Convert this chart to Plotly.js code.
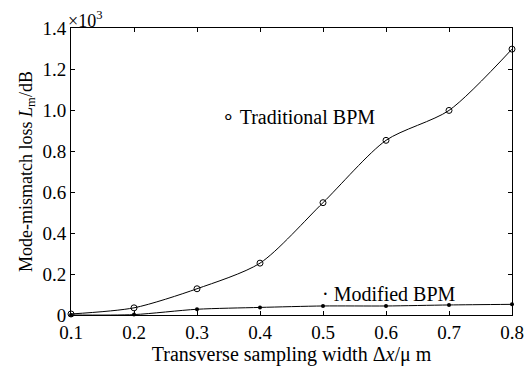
<!DOCTYPE html>
<html>
<head>
<meta charset="utf-8">
<script src="https://cdn.plot.ly/plotly-3.0.1.min.js"></script>
<style>
  html, body { margin: 0; padding: 0; background: #fff; }
  #chart { width: 528px; height: 367px; }
</style>
</head>
<body>
<div id="chart"></div>
<script>
// Transverse sampling width (μm)
const widths = [0.1, 0.2, 0.3, 0.4, 0.5, 0.6, 0.7, 0.8];
// Mode-mismatch loss, in units of 10^3 dB
const traditionalLoss = [0.005, 0.035, 0.128, 0.253, 0.548, 0.852, 0.998, 1.297];
const modifiedLoss = [0.0, 0.002, 0.028, 0.037, 0.044, 0.044, 0.049, 0.052];

const xTicks = [0.1, 0.2, 0.3, 0.4, 0.5, 0.6, 0.7, 0.8];
const xTickText = ['0.1', '0.2', '0.3', '0.4', '0.5', '0.6', '0.7', '0.8'];
const yTicks = [0, 0.2, 0.4, 0.6, 0.8, 1.0, 1.2, 1.4];
const yTickText = ['0', '0.2', '0.4', '0.6', '0.8', '1.0', '1.2', '1.4'];

const serif = 'Liberation Serif, Times New Roman, serif';

const traces = [
  {
    x: widths, y: traditionalLoss, type: 'scatter', mode: 'lines+markers',
    name: 'Traditional BPM',
    line: { color: '#000', width: 1, shape: 'spline', smoothing: 0.75 },
    marker: { symbol: 'circle-open', size: 6, color: '#000', line: { width: 1, color: '#000' } },
    cliponaxis: false
  },
  {
    x: widths, y: modifiedLoss, type: 'scatter', mode: 'lines+markers',
    name: 'Modified BPM',
    line: { color: '#000', width: 1, shape: 'spline', smoothing: 0.75 },
    marker: { symbol: 'circle', size: 4, color: '#000' },
    cliponaxis: false
  }
];

const axisCommon = {
  showline: true, linecolor: '#000', linewidth: 1, mirror: 'ticks',
  ticks: 'inside', ticklen: 4, tickcolor: '#000', tickwidth: 1,
  showgrid: false, zeroline: false,
  tickfont: { family: serif, size: 19, color: '#000' }
};

const layout = {
  width: 528, height: 367,
  margin: { l: 71, r: 16, t: 28, b: 52 },
  paper_bgcolor: '#fff', plot_bgcolor: '#fff',
  showlegend: false,
  font: { family: serif, color: '#000' },
  xaxis: Object.assign({}, axisCommon, {
    range: [0.1, 0.8], tickvals: xTicks, ticktext: xTickText, ticklabelstandoff: 0,
    title: { text: 'Transverse sampling width Δ<i>x</i>/μ m', font: { family: serif, size: 20, color: '#000' }, standoff: 0 }
  }),
  yaxis: Object.assign({}, axisCommon, {
    range: [0, 1.4], tickvals: yTicks, ticktext: yTickText,
    title: { text: 'Mode-mismatch loss <i>L</i><sub>m</sub>/dB', font: { family: serif, size: 18, color: '#000' }, standoff: 5 }
  }),
  annotations: [
    { xref: 'paper', yref: 'paper', x: 0, y: 1, xanchor: 'left', yanchor: 'bottom',
      text: '×10<sup>3</sup>', showarrow: false, font: { family: serif, size: 18 }, xshift: -5, yshift: -5 },
    { x: 0.346, y: 0.967, xanchor: 'left', yanchor: 'middle', text: '∘ Traditional BPM',
      showarrow: false, font: { family: serif, size: 20 }, xshift: -6 },
    { x: 0.503, y: 0.102, xanchor: 'left', yanchor: 'middle', text: '· Modified BPM',
      showarrow: false, font: { family: serif, size: 20 }, xshift: -5 }
  ]
};

Plotly.newPlot('chart', traces, layout, { staticPlot: true, displayModeBar: false });
</script>
</body>
</html>
